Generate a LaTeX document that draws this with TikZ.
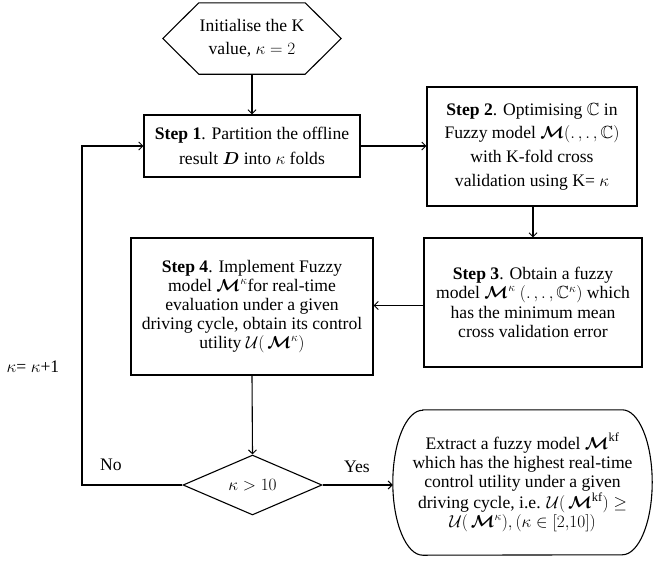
\documentclass[tikz,border=0pt]{standalone}
\usepackage{amsmath,amssymb,bm}
\usepackage{fontspec}
\setmainfont{Liberation Serif}
\usetikzlibrary{arrows.meta,shapes.geometric,calc}
\begin{document}
\begin{tikzpicture}[x=1pt,y=-1pt,
  every node/.style={font=\fontsize{17.6}{21}\selectfont, align=center, inner sep=0pt},
  fs/.style={font=\fontsize{17.6}{#1}\selectfont},
  box/.style={draw, line width=1.1pt, minimum width=#1},
  conn/.style={line width=1.1pt, -{Straight Barb[length=4pt,width=8pt,line width=1pt]}},
  plain/.style={line width=1.1pt}]
\useasboundingbox (0,0) rectangle (655,562);
% initial hexagon
\node (init) [fs=23, minimum width=178pt, minimum height=71pt] at (252,38.5) {Initialise the K\\value, $\kappa = 2$};
\draw[plain, line join=miter] (init.west) -- ([xshift=36pt]init.north west) -- ([xshift=-36pt]init.north east) -- (init.east) -- ([xshift=-36pt]init.south east) -- ([xshift=36pt]init.south west) -- cycle;
% steps
\node (s1) [fs=25, box=216pt, minimum height=62pt] at (252,146) {\textbf{Step 1}. Partition the offline\\result $\bm{D}$ into $\kappa$ folds};
\node (s2) [fs=23.7, box=210pt, minimum height=119pt] at (532,146.5) {\textbf{Step 2}. Optimising $\mathbb{C}$ in\\Fuzzy model $\bm{\mathcal{M}}(.\,,.\,,\mathbb{C})$\\with K-fold cross\\validation using K= $\kappa$};
\node (s3) [fs=19.5, box=218pt, minimum height=129pt] at (533,302.5) {\textbf{Step 3}. Obtain a fuzzy\\model $\bm{\mathcal{M}}^{\kappa}$ $(.\,,.\,,\mathbb{C}^{\kappa})$ which\\has the minimum mean\\cross validation error};
\node (s4) [fs=19, box=242pt, minimum height=137pt] at (252,306.5) {\textbf{Step 4}. Implement Fuzzy\\model $\bm{\mathcal{M}}^{\kappa}$for real-time\\evaluation under a given\\driving cycle, obtain its control\\utility $\mathcal{U}(\,\bm{\mathcal{M}}^{\kappa})$};
% decision
\node (dia) [diamond, draw, line width=1.1pt, minimum width=139pt, minimum height=52pt] at (252.5,485) {$\kappa > 10$};
% terminal
\node (fin) [fs=19.2, minimum width=259pt, minimum height=145pt] at (522.5,482.5) {Extract a fuzzy model $\bm{\mathcal{M}}^{\mathrm{kf}}$\\which has the highest real-time\\control utility under a given\\driving cycle, i.e. $\mathcal{U}(\,\bm{\mathcal{M}}^{\mathrm{kf}}) \geq$\\$\mathcal{U}(\,\bm{\mathcal{M}}^{\kappa}), (\kappa \in [2{,}10])$};
\draw[plain] ([xshift=30pt]fin.north west) -- ([xshift=-30pt]fin.north east)
  arc[start angle=90, end angle=-90, x radius=30pt, y radius=72.5pt]
  -- ([xshift=30pt]fin.south west)
  arc[start angle=270, end angle=90, x radius=30pt, y radius=72.5pt] -- cycle;
% labels
\node (no) at (111,465) {No};
\node (yes) at (357,467) {Yes};
\node (inc) at (33,367) {$\kappa$= $\kappa$+1};
\coordinate (loopx) at (82,300);
% connectors
\draw[conn] (init.south) -- (s1.north);
\draw[conn] (s1.east) -- (s1.east -| s2.west);
\draw[conn] (s2.south -| s3.north) -- (s3.north);
\draw[conn] ($(s3.west)+(0,3)$) -- ($(s3.west -| s4.east)+(0,3)$);
\draw[conn] (s4.south) -- (dia.north);
\draw[conn] (dia.east) -- (dia.east -| fin.west);
\draw[conn] (dia.west) -- (dia.west -| loopx) |- (s1.west);
\end{tikzpicture}
\end{document}
